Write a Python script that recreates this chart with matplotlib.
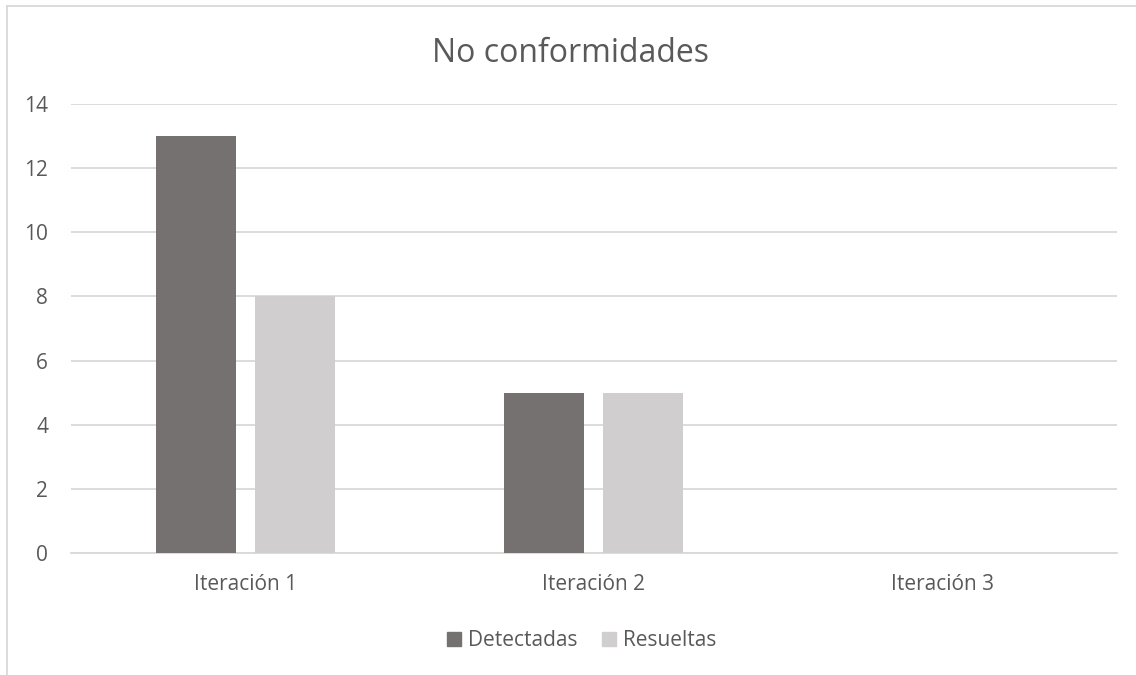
import matplotlib
matplotlib.use("Agg")
import matplotlib.pyplot as plt
from matplotlib.lines import Line2D
import numpy as np

categories = ["Iteración 1", "Iteración 2", "Iteración 3"]
detectadas = [13, 5, 0]
resueltas = [8, 5, 0]
yticks = [0, 2, 4, 6, 8, 10, 12, 14]
title = "No conformidades"

plt.rcParams['font.family'] = ['Open Sans', 'DejaVu Sans']

fig = plt.figure(figsize=(11.36, 6.75), dpi=100)
ax = fig.add_axes([0.0625, 0.1807, 0.9205, 0.6653])

x = np.arange(len(categories))
w = 0.229
off = 0.142
c1 = "#767171"
c2 = "#D0CECE"
ax.bar(x - off, detectadas, w, color=c1, label="Detectadas", zorder=3)
ax.bar(x + off, resueltas, w, color=c2, label="Resueltas", zorder=3)

ax.set_xlim(-0.5, 2.5)
ax.set_ylim(0, 14)
ax.set_yticks(yticks)
ax.set_xticks(x)
ax.set_xticklabels(categories)
ax.grid(axis='y', color="#D9D9D9", linewidth=1.3, zorder=0)
for s in ["top", "right", "left"]:
    ax.spines[s].set_visible(False)
ax.spines["bottom"].set_color("#D9D9D9")
ax.spines["bottom"].set_linewidth(1.3)
ax.tick_params(axis='both', length=0, labelsize=15, colors="#595959")
ax.tick_params(axis='x', pad=15)
ax.tick_params(axis='y', pad=16.5)

fig.text(0.502, 1 - 62/675, title, ha='center', va='baseline', fontsize=23, color="#595959")

handles = [Line2D([], [], marker='s', linestyle='none', markersize=10, color=c1),
           Line2D([], [], marker='s', linestyle='none', markersize=10, color=c2)]
fig.legend(handles, ["Detectadas", "Resueltas"], loc='center', bbox_to_anchor=(580/1136, 0.0505),
           ncol=2, frameon=False, fontsize=15, labelcolor="#595959",
           handletextpad=0.2, columnspacing=1.0, handlelength=1.0, borderpad=0)

# chart border
fig.add_artist(Line2D([6.5/1136, 6.5/1136], [0, 1-5.5/675], transform=fig.transFigure, color="#D9D9D9", linewidth=1.3))
fig.add_artist(Line2D([6.5/1136, 1], [1-5.5/675, 1-5.5/675], transform=fig.transFigure, color="#D9D9D9", linewidth=1.3))

fig.savefig("out.png", dpi=100, facecolor="white")
